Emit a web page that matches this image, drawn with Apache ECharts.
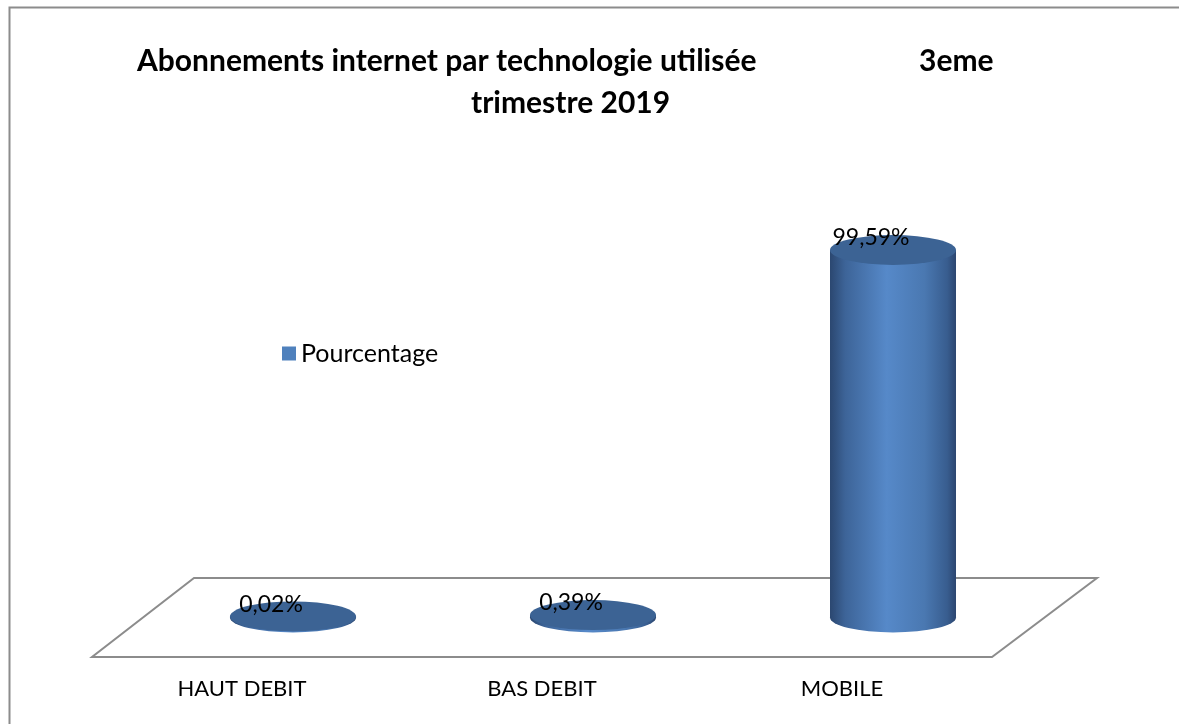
<!DOCTYPE html>
<html>
<head>
<meta charset="utf-8">
<script src="https://cdn.jsdelivr.net/npm/echarts@6/dist/echarts.min.js"></script>
<style>
  html, body { margin: 0; padding: 0; background: #fff; }
  #chart { width: 1179px; height: 724px; }
</style>
</head>
<body>
<div id="chart"></div>
<script>
// data
var categories = ['HAUT DEBIT', 'BAS DEBIT', 'MOBILE'];
var values = [0.02, 0.39, 99.59];
var labels = ['0,02%', '0,39%', '99,59%'];

var FONT = 'Lato, "Open Sans", sans-serif';
// depth of the 3d floor (px)
var DX = 102, DY = -79;
var RX = 63, RY = 15;

var chart = echarts.init(document.getElementById('chart'));

function cylinder(params, api) {
  var i = api.value(0);
  var base = api.coord([i, 0]);
  var top = api.coord([i, api.value(1)]);
  var cx = base[0] + DX / 2;
  var by = base[1] + DY / 2;
  var ty = top[1] + DY / 2 - 1;
  var grad = new echarts.graphic.LinearGradient(0, 0, 1, 0, [
    { offset: 0, color: '#2b4770' },
    { offset: 0.12, color: '#3d6498' },
    { offset: 0.45, color: '#5689c9' },
    { offset: 0.75, color: '#4a78b1' },
    { offset: 0.93, color: '#385d8f' },
    { offset: 1, color: '#2c4670' }
  ]);
  var children = [];
  if (by - ty > 1) {
    children.push({
      type: 'circle',
      shape: { cx: 0, cy: 0, r: RX },
      x: cx, y: by, scaleY: RY / RX,
      style: { fill: grad }
    });
    children.push({
      type: 'rect',
      shape: { x: cx - RX, y: ty, width: RX * 2, height: by - ty },
      style: { fill: grad }
    });
  }
  children.push({
    type: 'circle',
    shape: { cx: 0, cy: 0, r: RX },
    x: cx, y: ty, scaleY: RY / RX,
    style: { fill: '#3c6394' }
  });
  children.push({
    type: 'text',
    style: {
      text: labels[params.dataIndex],
      x: cx - 22, y: ty - 12,
      align: 'center', verticalAlign: 'middle',
      font: '23px ' + FONT, fill: '#000'
    }
  });
  return { type: 'group', children: children };
}

function floor(params, api) {
  var cs = params.coordSys;
  var x0 = cs.x, x1 = cs.x + cs.width, y0 = cs.y + cs.height;
  return {
    type: 'polygon',
    shape: { points: [[x0, y0], [x1, y0], [x1 + DX + 3, y0 + DY], [x0 + DX, y0 + DY]] },
    style: { fill: '#fff', stroke: '#8c8c8c', lineWidth: 2 },
    silent: true
  };
}

chart.setOption({
  animation: false,
  title: [
    { text: 'Abonnements internet par technologie utilisée', left: 132, top: 41,
      textStyle: { fontFamily: FONT, fontWeight: 'bold', fontSize: 30, color: '#000' } },
    { text: '3eme', left: 914, top: 41,
      textStyle: { fontFamily: FONT, fontWeight: 'bold', fontSize: 30, color: '#000' } },
    { text: 'trimestre 2019', left: 466, top: 83,
      textStyle: { fontFamily: FONT, fontWeight: 'bold', fontSize: 30, color: '#000' } }
  ],
  legend: {
    data: ['Pourcentage'],
    left: 277, top: 336,
    icon: 'rect', itemWidth: 14, itemHeight: 14, itemGap: 6,
    textStyle: { fontFamily: FONT, fontSize: 25, color: '#000' }
  },
  graphic: [{
    type: 'rect', left: 7, top: 5, silent: true,
    shape: { width: 1250, height: 800 },
    style: { fill: 'none', stroke: '#8c8c8c', lineWidth: 2 }
  }],
  grid: { left: 92, right: 187, top: 289, bottom: 67 },
  xAxis: {
    type: 'category',
    data: categories,
    axisLine: { show: false },
    axisTick: { show: false },
    axisLabel: { margin: 21, fontFamily: FONT, fontSize: 22, color: '#000' }
  },
  yAxis: { type: 'value', min: 0, max: 100, show: false, splitLine: { show: false } },
  series: [
    {
      type: 'custom', name: 'floor', silent: true, z: 1,
      renderItem: floor, data: [[0, 0]]
    },
    {
      type: 'custom', name: 'Pourcentage', z: 2,
      itemStyle: { color: '#4f81bd' },
      renderItem: cylinder,
      encode: { x: 0, y: 1 },
      data: values.map(function (v, i) { return [i, v]; })
    }
  ]
});
</script>
</body>
</html>
